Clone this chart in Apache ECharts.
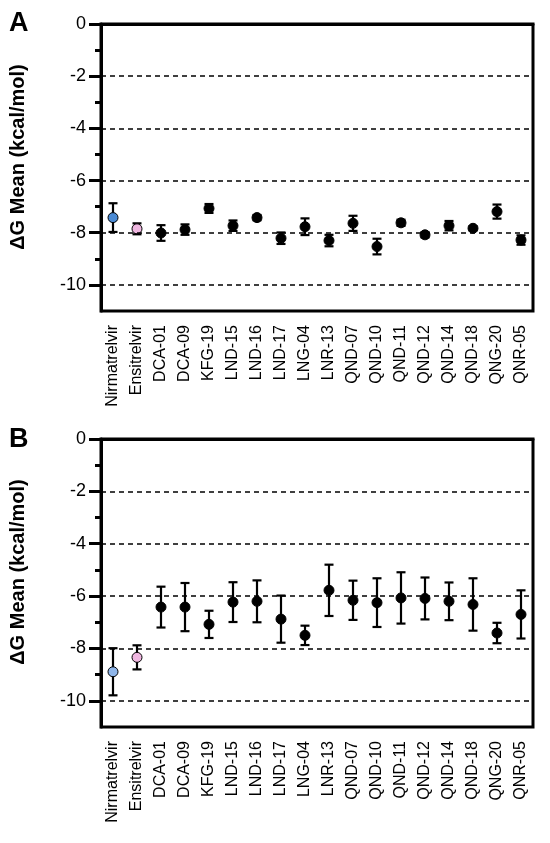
<!DOCTYPE html>
<html>
<head>
<meta charset="utf-8">
<script src="https://cdn.jsdelivr.net/npm/echarts@6/dist/echarts.min.js"></script>
<style>
html,body{margin:0;padding:0;background:#fff;}
#chart{width:550px;height:843px;}
</style>
</head>
<body>
<div id="chart"></div>
<script>
var compounds = ['Nirmatrelvir','Ensitrelvir','DCA-01','DCA-09','KFG-19','LND-15','LND-16','LND-17','LNG-04',
    'LNR-13','QND-07','QND-10','QND-11','QND-12','QND-14','QND-18','QNG-20','QNR-05'];

// panel A
var meanA = [-7.42,-7.85,-8.01,-7.88,-7.07,-7.73,-7.42,-8.21,-7.77,-8.30,-7.64,-8.53,-7.62,-8.08,-7.73,-7.83,-7.19,-8.28];
var errA  = [0.55,0.21,0.30,0.20,0.17,0.20,0.10,0.22,0.32,0.22,0.29,0.30,0.12,0.10,0.18,0.08,0.27,0.18];
// panel B
var meanB = [-8.89,-8.34,-6.42,-6.42,-7.08,-6.23,-6.20,-6.88,-7.50,-5.78,-6.16,-6.25,-6.07,-6.09,-6.20,-6.32,-7.41,-6.70];
var errB  = [0.90,0.46,0.78,0.92,0.52,0.76,0.80,0.90,0.37,0.98,0.75,0.93,0.98,0.80,0.72,1.00,0.39,0.92];

var majorTicks = [0,-2,-4,-6,-8,-10];
var minorTicks = [-1,-3,-5,-7,-9];
var gridLines = [-2,-4,-6,-8,-10];

var colorsA = ['#4a8ad4','#efb6e0'];
var colorsB = ['#8fb6ea','#efb6e0'];

var chart = echarts.init(document.getElementById('chart'));

function pointData(mean, cols) {
    return mean.map(function(v, i) {
        return {value: [i, v], itemStyle: {color: cols[i] || '#000'}};
    });
}
function barData(mean, err) {
    return mean.map(function(v, i) { return [i, v - err[i], v + err[i]]; });
}
function renderErr(params, api) {
    var lo = api.coord([api.value(0), api.value(1)]);
    var hi = api.coord([api.value(0), api.value(2)]);
    var cap = 4.5;
    var st = {stroke: '#000', lineWidth: 2.2};
    return {type: 'group', children: [
        {type: 'line', shape: {x1: lo[0], y1: lo[1], x2: hi[0], y2: hi[1]}, style: st},
        {type: 'line', shape: {x1: lo[0]-cap, y1: lo[1], x2: lo[0]+cap, y2: lo[1]}, style: st},
        {type: 'line', shape: {x1: hi[0]-cap, y1: hi[1], x2: hi[0]+cap, y2: hi[1]}, style: st}
    ]};
}

var font = 'Liberation Sans, Arial, sans-serif';
var grids = [
    {left: 101, right: 17, top: 24, height: 287},
    {left: 101, right: 17, top: 439, height: 288}
];
grids.forEach(function(g){ g.show = true; g.borderColor = '#000'; g.borderWidth = 3; });

var xAxes = [0,1].map(function(k){
    return {
        type: 'category', gridIndex: k, data: compounds, boundaryGap: true,
        axisLine: {lineStyle: {color: '#000', width: 3}},
        axisTick: {alignWithLabel: true, length: 10, lineStyle: {color: '#000', width: 3}},
        axisLabel: {rotate: 90, color: '#000', fontSize: 16, fontFamily: font, margin: 14, interval: 0},
        splitLine: {show: false}
    };
});

var yAxes = [];
[0,1].forEach(function(k){
    yAxes.push({
        type: 'value', gridIndex: k, min: -11, max: 0,
        axisLine: {show: true, lineStyle: {color: '#000', width: 3}},
        axisTick: {show: true, length: 12, customValues: majorTicks, lineStyle: {color: '#000', width: 3}},
        axisLabel: {color: '#000', fontSize: 18, fontFamily: font, margin: 15, customValues: majorTicks},
        splitLine: {show: false}
    });
    yAxes.push({
        type: 'value', gridIndex: k, min: -11, max: 0, position: 'left',
        axisLine: {show: false},
        axisTick: {show: true, length: 6, customValues: minorTicks, lineStyle: {color: '#000', width: 3}},
        axisLabel: {show: false},
        splitLine: {show: false}
    });
});

var series = [];
[[meanA, errA, colorsA], [meanB, errB, colorsB]].forEach(function(p, k){
    series.push({
        type: 'custom', xAxisIndex: k, yAxisIndex: 2*k,
        renderItem: renderErr, data: barData(p[0], p[1]), z: 3,
        markLine: {
            silent: true, symbol: 'none', label: {show: false},
            lineStyle: {color: '#000', type: [5, 4], width: 1.5},
            data: gridLines.map(function(v){ return {yAxis: v}; })
        }
    });
    series.push({
        type: 'scatter', xAxisIndex: k, yAxisIndex: 2*k,
        symbolSize: 10, z: 4,
        itemStyle: {borderColor: '#000', borderWidth: 1, opacity: 1},
        data: pointData(p[0], p[2])
    });
});

var titleStyle = {text: '\u0394G Mean (kcal/mol)', fontSize: 20, fontWeight: 'bold', fontFamily: font,
    fill: '#000', textAlign: 'center', textVerticalAlign: 'middle'};

chart.setOption({
    animation: false,
    grid: grids,
    xAxis: xAxes,
    yAxis: yAxes,
    series: series,
    graphic: [
        {type: 'text', left: 9, top: 10, style: {text: 'A', fontSize: 27, fontWeight: 'bold', fontFamily: font, fill: '#000'}},
        {type: 'text', left: 9, top: 426, style: {text: 'B', fontSize: 27, fontWeight: 'bold', fontFamily: font, fill: '#000'}},
        {type: 'text', x: 18, y: 157, rotation: Math.PI/2, style: titleStyle},
        {type: 'text', x: 18, y: 572, rotation: Math.PI/2, style: titleStyle}
    ]
});
</script>
</body>
</html>
